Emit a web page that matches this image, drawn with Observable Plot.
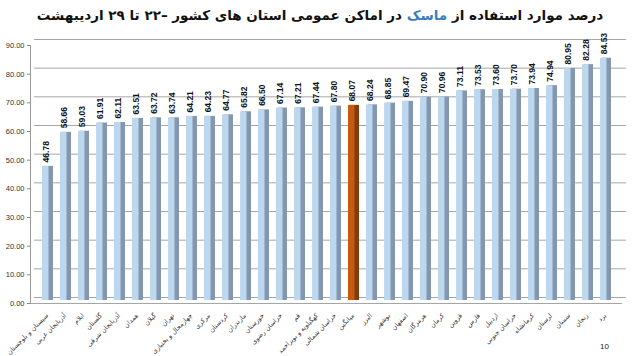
<!DOCTYPE html>
<html>
<head>
<meta charset="utf-8">
<script src="https://cdn.jsdelivr.net/npm/d3@7"></script>
<script src="https://cdn.jsdelivr.net/npm/@observablehq/plot@0.6"></script>
<style>
  body { margin: 0; background: #fff; }
  #wrap { position: relative; width: 640px; height: 356px; overflow: hidden; }
  #title { position: absolute; top: 7px; left: 0; width: 640px; text-align: center; direction: rtl;
           font-family: "DejaVu Sans", sans-serif; font-weight: bold; font-size: 13.5px; color: #111; z-index: 2; }
  #title .hl { color: #3b7dc4; }
  #page { position: absolute; left: 600px; top: 342px; font-family: "Liberation Sans", Arial, sans-serif; font-size: 8px; color: #222; }
  #chart { position: absolute; left: 0; top: 0; }
</style>
</head>
<body>
<div id="wrap">
  <div id="title">درصد موارد استفاده از <span class="hl">ماسک</span> در اماکن عمومی استان های کشور –۲۲ تا ۲۹ اردیبهشت</div>
  <div id="chart"></div>
  <div id="page">10</div>
</div>
<script>
const categories = [
  "سیستان و بلوچستان", "آذربایجان غربی", "ایلام", "گلستان", "آذربایجان شرقی", "همدان", "گیلان", "تهران",
  "چهارمحال و بختیاری", "مرکزی", "کردستان", "مازندران", "خوزستان", "خراسان رضوی", "قم",
  "کهگیلویه و بویراحمد", "خراسان شمالی", "میانگین", "البرز", "بوشهر", "اصفهان", "هرمزگان", "کرمان",
  "قزوین", "فارس", "اردبیل", "خراسان جنوبی", "کرمانشاه", "لرستان", "سمنان", "زنجان", "یزد"
];
const values = [
  46.78, 58.66, 59.03, 61.91, 62.11, 63.51, 63.72, 63.74,
  64.21, 64.23, 64.77, 65.82, 66.50, 67.14, 67.21,
  67.44, 67.80, 68.07, 68.24, 68.85, 69.47, 70.90, 70.96,
  73.11, 73.53, 73.60, 73.70, 73.94, 74.94, 80.95, 82.28, 84.53
];
const highlight = "میانگین";
const yTicks = [0, 10, 20, 30, 40, 50, 60, 70, 80, 90];

const data = categories.map((name, i) => ({name, value: values[i]}));
const isHl = d => d.name === highlight;

const chart = Plot.plot({
  width: 640,
  height: 356,
  marginLeft: 30,
  marginRight: 18,
  marginTop: 45,
  marginBottom: 53,
  style: {fontFamily: "'Liberation Sans', Arial, sans-serif", background: "transparent"},
  x: {type: "band", domain: categories, paddingInner: 0.48, paddingOuter: 0.5, axis: null},
  y: {domain: [0, 90], axis: null},
  marks: [
    Plot.ruleY(yTicks, {y: d => d, stroke: "#a6a6a6", strokeWidth: 1, dx: 4, dy: -6}),
    Plot.ruleY([0], {stroke: "#a6a6a6", strokeWidth: 1}),
    Plot.axisY({ticks: yTicks, tickFormat: d => d.toFixed(2), tickSize: 3, tickPadding: 3,
                fontSize: 7.5, stroke: "#888", fill: "#333", label: null}),
    Plot.frame({anchor: "left", stroke: "#999"}),
    Plot.barY(data, {x: "name", y: "value", fill: d => isHl(d) ? "#843c0c" : "#8497b0", dx: 2, dy: -3}),
    Plot.barY(data, {x: "name", y: "value", fill: d => isHl(d) ? "#c55a11" : "#bdd7ee", insetRight: 2.5, dy: -3}),
    Plot.text(data, {x: "name", y: "value", text: d => d.value.toFixed(2), rotate: -90, textAnchor: "start",
                     dy: -7, dx: -1, fontWeight: "bold", fontSize: 8.5, fill: "#111"}),
    Plot.text(data, {x: "name", y: 0, text: "name", rotate: -45, textAnchor: "end", dy: 11, dx: 0,
                     fontSize: 6.5, fill: "#333", fontFamily: "'DejaVu Sans', sans-serif"})
  ]
});
document.getElementById("chart").appendChild(chart);
</script>
</body>
</html>
